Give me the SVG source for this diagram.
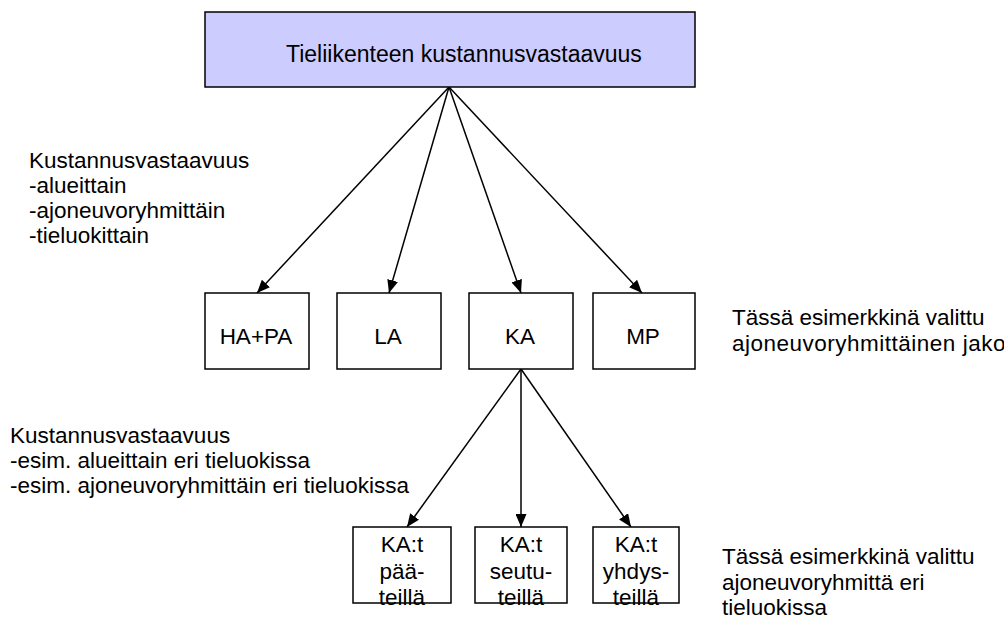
<svg xmlns="http://www.w3.org/2000/svg" width="1004" height="624" viewBox="0 0 1004 624">
<style>
text{font-family:"Liberation Sans",Arial,sans-serif;font-size:22.5px;fill:#000}
.box{fill:#fff;stroke:#000;stroke-width:1.5}
.top{fill:#ccccff;stroke:#000;stroke-width:1.5}
.c{text-anchor:middle}
.conn line{stroke:#000;stroke-width:1.5;marker-end:url(#ah)}
</style>
<defs>
<marker id="ah" markerUnits="userSpaceOnUse" markerWidth="13" markerHeight="11" refX="13" refY="5.5" orient="auto">
<path d="M0,0 L13,5.5 L0,11 Z" fill="#000"/>
</marker>
</defs>
<rect width="1004" height="624" fill="#fff"/>
<g id="connectors" class="conn">
<line x1="449" y1="87" x2="257" y2="293"/>
<line x1="449" y1="87" x2="389" y2="293"/>
<line x1="449" y1="87" x2="521" y2="293"/>
<line x1="449" y1="87" x2="642" y2="293"/>
<line x1="521" y1="369" x2="407" y2="527"/>
<line x1="521" y1="369" x2="521" y2="527"/>
<line x1="521" y1="369" x2="631" y2="527"/>
</g>
<g id="root">
<rect class="top" x="205" y="12" width="490" height="75"/>
<text x="286" y="62" style="font-size:23px">Tieliikenteen kustannusvastaavuus</text>
</g>
<g id="hapa">
<rect class="box" x="205" y="293" width="104" height="76"/>
<text class="c" x="256" y="344">HA+PA</text>
</g>
<g id="la">
<rect class="box" x="337" y="293" width="104" height="76"/>
<text class="c" x="388" y="344">LA</text>
</g>
<g id="ka">
<rect class="box" x="469" y="293" width="104" height="76"/>
<text class="c" x="520" y="344">KA</text>
</g>
<g id="mp">
<rect class="box" x="593" y="293" width="102" height="76"/>
<text class="c" x="643" y="344">MP</text>
</g>
<g id="ka-paa">
<rect class="box" x="353" y="527" width="98" height="76"/>
<text class="c" x="402" y="552">KA:t</text>
<text class="c" x="402" y="579">pää-</text>
<text class="c" x="402" y="605">teillä</text>
</g>
<g id="ka-seutu">
<rect class="box" x="475" y="527" width="92" height="76"/>
<text class="c" x="521" y="552">KA:t</text>
<text class="c" x="521" y="579">seutu-</text>
<text class="c" x="521" y="605">teillä</text>
</g>
<g id="ka-yhdys">
<rect class="box" x="593" y="527" width="86" height="76"/>
<text class="c" x="636" y="552">KA:t</text>
<text class="c" x="636" y="579">yhdys-</text>
<text class="c" x="636" y="605">teillä</text>
</g>
<g id="note-top-left">
<text x="29" y="168">Kustannusvastaavuus</text>
<text x="29" y="193">-alueittain</text>
<text x="29" y="218">-ajoneuvoryhmittäin</text>
<text x="29" y="243">-tieluokittain</text>
</g>
<g id="note-bottom-left">
<text x="10" y="443">Kustannusvastaavuus</text>
<text x="10" y="468">-esim. alueittain eri tieluokissa</text>
<text x="10" y="493">-esim. ajoneuvoryhmittäin eri tieluokissa</text>
</g>
<g id="note-middle-right">
<text x="732" y="325">Tässä esimerkkinä valittu</text>
<text x="732" y="351" style="letter-spacing:0.5px">ajoneuvoryhmittäinen jako</text>
</g>
<g id="note-bottom-right">
<text x="722" y="564">Tässä esimerkkinä valittu</text>
<text x="722" y="590">ajoneuvoryhmittä eri</text>
<text x="722" y="615">tieluokissa</text>
</g>
</svg>
